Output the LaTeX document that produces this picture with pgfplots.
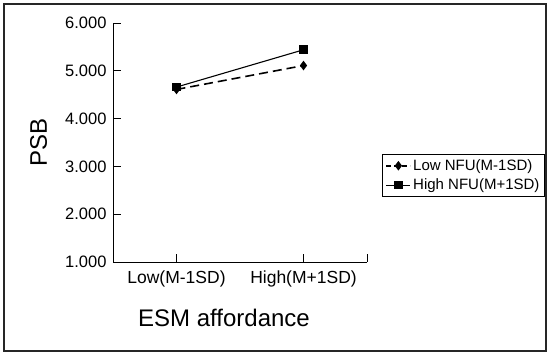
\documentclass[border=0pt]{standalone}
\usepackage{fontspec}
\setmainfont{Liberation Sans}
\usepackage{pgfplots}
\pgfplotsset{compat=1.18}
\begin{document}
\begin{tikzpicture}[x=1bp,y=1bp]
\fill[white] (0,0) rectangle (550,355);
\draw[line width=1.2bp, black!85] (4,4) rectangle (546,351);
\begin{axis}[
  at={(113bp,93bp)}, anchor=south west,
  scale only axis, width=254bp, height=239bp,
  xmin=-0.5, xmax=1.5, ymin=1, ymax=6,
  axis x line=bottom, axis y line=left,
  axis line style={-, line width=1bp},
  xtick={0,1}, xticklabels={Low(M-1SD),High(M+1SD)},
  extra x ticks={1.5}, extra x tick labels={},
  ytick={1,2,3,4,5,6},
  tick align=inside,
  major tick length=8bp,
  tick style={black, line width=1bp},
  /pgf/number format/.cd, fixed, fixed zerofill, precision=3, assume math mode=true,
  /pgfplots/.cd,
  yticklabel style={font=\fontsize{16.5bp}{18bp}\selectfont, xshift=-3bp},
  xticklabel style={font=\fontsize{17.5bp}{20bp}\selectfont, yshift=-5bp},
  xlabel={ESM affordance}, ylabel={PSB},
  label style={font=\fontsize{24bp}{28bp}\selectfont},
  xlabel style={anchor=center, at={(axis description cs:0.437,-0.234)}},
  ylabel style={anchor=center, at={(axis description cs:-0.293,0.502)}},
  clip=false,
  legend style={at={(axis description cs:1.059,0.452)}, anchor=north west,
    font=\fontsize{15bp}{17bp}\selectfont, draw=black, line width=1.2bp,
    inner sep=3bp, row sep=3bp, cells={anchor=west}},
  legend image code/.code={\draw[mark repeat=2,mark phase=2,#1] plot coordinates {(0bp,0bp) (12bp,0bp) (24bp,0bp)};},
]
\addplot[black, line width=1.6bp, dash pattern=on 9bp off 5bp, mark=diamond*, mark size=3.5bp, mark options={solid},
  legend image post style={dash pattern=on 5bp off 3bp}]
  coordinates {(0,4.61) (1,5.11)};
\addlegendentry{Low NFU(M-1SD)}
\addplot[black, line width=1.1bp, mark=square*, mark size=3.8bp, mark options={solid}]
  coordinates {(0,4.66) (1,5.44)};
\addlegendentry{High NFU(M+1SD)}
\end{axis}
\end{tikzpicture}
\end{document}
